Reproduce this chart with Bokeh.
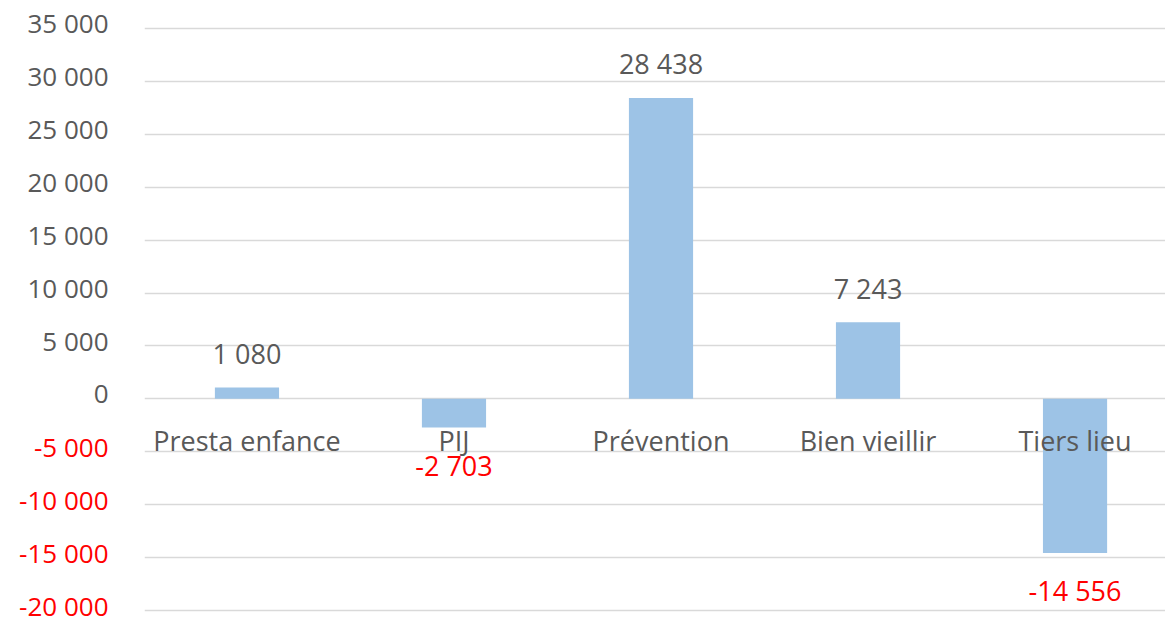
from bokeh.plotting import figure
from bokeh.layouts import row
from bokeh.models import ColumnDataSource, Range1d, FixedTicker
from bokeh.core.properties import value
from bokeh.embed import file_html
from bokeh.resources import INLINE

# ---- data ----
categories = ["Presta enfance", "PIJ", "Prévention", "Bien vieillir", "Tiers lieu"]
values = [1080, -2703, 28438, 7243, -14556]
tick_values = [-20000, -15000, -10000, -5000, 0, 5000, 10000, 15000,
               20000, 25000, 30000, 35000]


def fmt(v):
    return f"{v:,}".replace(",", " ")


GRAY = "#595959"
RED = "#FF0000"
BAR = "#9DC3E6"
GRID = "#D9D9D9"
FONT = "Open Sans"
FS = "27px"
TICK_FS = "26px"

xs = list(range(len(categories)))
src = ColumnDataSource(dict(
    x=xs,
    top=values,
    cat=categories,
    lab=[fmt(v) for v in values],
    col=[GRAY if v >= 0 else RED for v in values],
    off=[-34 if v >= 0 else 38 for v in values],
))

y_range = Range1d(-21228, 37646)


def base(width, x_range):
    f = figure(width=width, height=623, output_backend="svg",
               toolbar_location=None, x_range=x_range, y_range=y_range,
               min_border_left=0, min_border_right=0, min_border_top=0,
               min_border_bottom=0)
    f.outline_line_color = None
    f.background_fill_color = "white"
    f.border_fill_color = "white"
    f.xaxis.visible = False
    f.yaxis.visible = False
    f.xgrid.visible = False
    return f


# ---- tick-label strip (value axis) ----
lab_fig = base(144, Range1d(0, 1))
lab_fig.ygrid.visible = False
tick_src = ColumnDataSource(dict(
    x=[1] * len(tick_values),
    y=tick_values,
    t=[fmt(t) for t in tick_values],
    c=[GRAY if t >= 0 else RED for t in tick_values],
))
lab_fig.text(x="x", y="y", text="t", source=tick_src, x_offset=-36,
             y_offset=-5, text_align="right", text_baseline="middle",
             text_color="c", text_font=value(FONT),
             text_font_size=value(TICK_FS))

# ---- main chart ----
p = base(1021, Range1d(-0.495, 4.437))
p.ygrid.ticker = FixedTicker(ticks=tick_values)
p.ygrid.grid_line_color = GRID
p.ygrid.grid_line_width = 1.5

p.vbar(x="x", top="top", bottom=0, width=0.31, fill_color=BAR,
       line_color=None, source=src)

p.text(x="x", y=0, text="cat", y_offset=42, text_align="center",
       text_baseline="middle", text_color=GRAY, text_font=value(FONT),
       text_font_size=value(FS), source=src)

p.text(x="x", y="top", text="lab", y_offset="off", text_align="center",
       text_baseline="middle", text_color="col", text_font=value(FONT),
       text_font_size=value(FS), source=src)

layout = row(lab_fig, p, spacing=0)
open("out.html", "w").write(file_html(layout, INLINE))
